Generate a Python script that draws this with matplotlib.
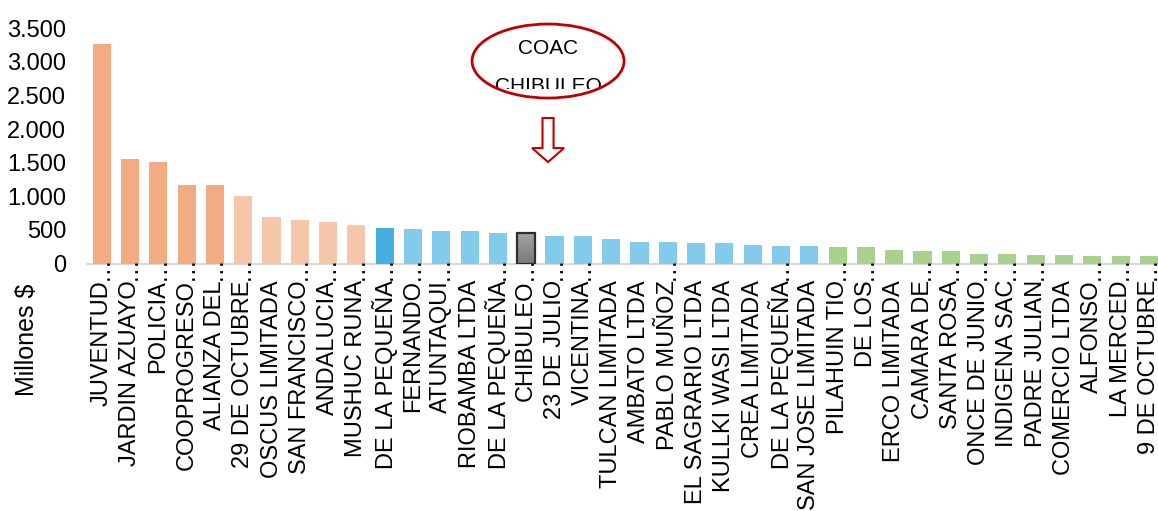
import matplotlib
matplotlib.use('Agg')
import matplotlib.pyplot as plt
import numpy as np
from matplotlib.patches import Ellipse, FancyArrow
from matplotlib.transforms import offset_copy, Bbox, TransformedBbox
from matplotlib.ticker import FuncFormatter

plt.rcParams['font.family'] = ['Liberation Sans', 'DejaVu Sans']

# activos por cooperativa, millones de dolares
cooperativas = [
    "JUVENTUD…", "JARDIN AZUAYO…", "POLICIA…", "COOPROGRESO…", "ALIANZA DEL…",
    "29 DE OCTUBRE…", "OSCUS LIMITADA", "SAN FRANCISCO…", "ANDALUCIA…", "MUSHUC RUNA…",
    "DE LA PEQUEÑA…", "FERNANDO…", "ATUNTAQUI…", "RIOBAMBA LTDA", "DE LA PEQUEÑA…",
    "CHIBULEO…", "23 DE JULIO…", "VICENTINA…", "TULCAN LIMITADA", "AMBATO LTDA",
    "PABLO MUÑOZ…", "EL SAGRARIO LTDA", "KULLKI WASI LTDA", "CREA LIMITADA", "DE LA PEQUEÑA…",
    "SAN JOSE LIMITADA", "PILAHUIN TIO…", "DE LOS…", "ERCO LIMITADA", "CAMARA DE…",
    "SANTA ROSA…", "ONCE DE JUNIO…", "INDIGENA SAC…", "PADRE JULIAN…", "COMERCIO LTDA",
    "ALFONSO…", "LA MERCED…", "9 DE OCTUBRE…",
]
valores = [
    3266, 1555, 1510, 1168, 1168,
    1004, 692, 647, 618, 573,
    528, 513, 484, 484, 454,
    450, 409, 409, 365, 320,
    320, 305, 305, 275, 260,
    260, 246, 246, 201, 181,
    181, 146, 141, 126, 126,
    112, 112, 112,
]
grupos = ["a"] * 5 + ["b"] * 5 + ["c"] + ["d"] * 4 + ["x"] + ["d"] * 10 + ["e"] * 12
colores_grupo = {"a": "#F2AB83", "b": "#F6C6AA", "c": "#45B0E0",
                 "d": "#83CBEA", "e": "#A9D18E", "x": "#8C8C8C"}
destacada = "CHIBULEO…"

fig = plt.figure(figsize=(11.58, 5.11), dpi=100)
ax = fig.add_axes([0.0751, 0.4843, 0.9249, 0.4603])

x = np.arange(len(cooperativas))
colores = [colores_grupo[g] for g in grupos]
barras = ax.bar(x, valores, width=0.64, color=colores, zorder=2)

# degradado gris en la barra destacada
i_dest = cooperativas.index(destacada)
b = barras[i_dest]
grad = np.linspace(0, 1, 100).reshape(-1, 1)
img = ax.imshow(grad, cmap=matplotlib.colors.LinearSegmentedColormap.from_list(
    "g", ["#7A7A7A", "#A2A2A2"]), origin="lower", aspect="auto",
    extent=(b.get_x(), b.get_x() + b.get_width(), 0, b.get_height()), zorder=3)
img.set_clip_path(b)
ax.bar(x[i_dest], valores[i_dest], width=0.64, fill=False,
       edgecolor="#2E2E2E", linewidth=1.6, zorder=4)

ax.set_xlim(-0.52, 37.32)
ax.set_ylim(0, 3500)
ax.set_yticks(np.arange(0, 3501, 500))
ax.yaxis.set_major_formatter(FuncFormatter(lambda v, p: f"{int(v):,}".replace(",", ".")))
ax.tick_params(axis="y", length=0, pad=15, labelsize=17)

# etiquetas: texto principal abajo del eje, puntos suspensivos aparte
etiquetas = [c.rstrip("…") for c in cooperativas]
ax.set_xticks(x)
ax.set_xticklabels(etiquetas, rotation=90, fontsize=17)
ax.tick_params(axis="x", length=0, pad=11.9)
trans = offset_copy(ax.get_xaxis_transform(), fig=fig, y=-16.5, units="dots")
for i, c in enumerate(cooperativas):
    if c.endswith("…"):
        ax.text(i, 0, "…", rotation=90, ha="center", va="bottom",
                fontsize=17, transform=trans, clip_on=False)

for s in ["top", "right", "left"]:
    ax.spines[s].set_visible(False)
ax.spines["bottom"].set_color("#D9D9D9")
ax.spines["bottom"].set_linewidth(1.5)
ax.spines["bottom"].set_zorder(1)

fig.text(27 / 1158, 1 - 340 / 511, "Millones $", rotation=90,
         ha="center", va="center", fontsize=18)

# globo con el nombre de la cooperativa y flecha
cx = 15.77
ax.add_patch(Ellipse((cx, 3013), width=5.37, height=1101, fill=False,
                     edgecolor="#C00000", linewidth=2, clip_on=False, zorder=5))
ax.text(cx, 3207, "COAC", ha="center", va="center", fontsize=15, clip_on=False)
t = ax.text(cx, 2552, "CHIBULEO", ha="center", va="baseline", fontsize=15)
t.set_clip_box(TransformedBbox(Bbox([[10, 2597], [22, 4000]]), ax.transData))
t.set_clip_on(True)
ax.add_patch(FancyArrow(cx, 2165, 0, -655, width=0.39, head_width=1.13,
                        head_length=208, length_includes_head=True,
                        facecolor="white", edgecolor="#C00000", linewidth=1.5,
                        zorder=5))

fig.savefig("out.png", dpi=100)
